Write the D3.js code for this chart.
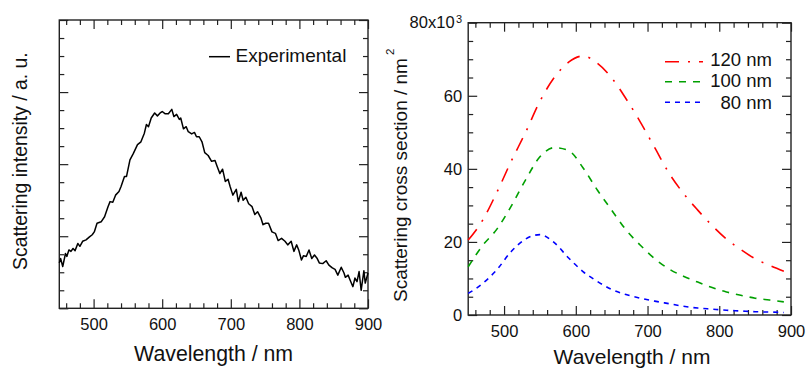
<!DOCTYPE html>
<html><head><meta charset="utf-8">
<script src="https://cdn.jsdelivr.net/npm/d3@7"></script>
<style>
body{margin:0;background:#fff}
text{font-family:"Liberation Sans",Arial,sans-serif;fill:#111}
</style>
</head><body>
<svg id="c" width="808" height="369"></svg>
<script>
// ---------- data ----------
const expWavelength = [450,452,455,459,461,464,467,470,473,477,480,484,489,494,498,501,505,511,516,521,524,528,532,537,540,545,548,553,558,564,569,574,577,580,584,589,593,597,600,604,609,614,617,621,625,627,631,635,638,643,647,650,654,658,662,667,672,677,680,684,688,692,696,699,703,708,711,715,718,722,726,731,735,739,744,747,751,755,760,765,769,774,779,783,788,792,796,799,803,806,810,814,818,822,826,829,834,839,843,848,852,856,861,865,867,871,874,878,881,884,887,890,894,896,900];
const expIntensity = [0.63,0.69,0.58,0.76,0.72,0.81,0.79,0.83,0.80,0.90,0.86,0.93,0.95,0.99,1.02,1.06,1.18,1.20,1.27,1.41,1.48,1.47,1.57,1.62,1.69,1.83,1.83,2.06,2.15,2.27,2.31,2.43,2.55,2.52,2.64,2.71,2.67,2.71,2.73,2.70,2.70,2.76,2.66,2.69,2.62,2.64,2.49,2.52,2.45,2.42,2.44,2.38,2.38,2.31,2.16,2.12,2.04,2.05,1.97,1.87,1.93,1.76,1.79,1.69,1.57,1.65,1.48,1.61,1.50,1.54,1.45,1.41,1.30,1.34,1.25,1.16,1.18,1.18,1.06,1.04,0.94,0.97,0.93,0.88,0.93,0.79,0.88,0.81,0.67,0.73,0.72,0.81,0.69,0.74,0.69,0.63,0.62,0.66,0.60,0.56,0.54,0.46,0.57,0.49,0.43,0.46,0.39,0.30,0.42,0.37,0.51,0.25,0.52,0.35,0.49];

const theoryWavelength = [450,470,490,510,530,550,570,590,610,630,650,670,690,710,730,750,770,790,810,830,850,870,890];
const sca120 = [20.5,25.9,33.6,42.1,50.0,58.5,65.0,69.2,70.9,68.9,64.9,59.2,52.8,45.8,38.8,33.3,28.7,24.5,20.8,17.9,15.4,13.6,12.0];
const sca100 = [13.2,19.0,23.5,29.8,37.0,43.3,45.8,45.0,40.3,34.2,28.7,23.3,19.1,15.4,12.6,10.6,9.0,7.5,6.3,5.4,4.6,4.1,3.6];
const sca80  = [5.9,8.6,12.4,17.4,20.8,22.0,19.8,15.6,11.9,9.2,7.0,5.6,4.6,3.8,3.1,2.4,1.9,1.6,1.3,1.1,0.9,0.8,0.7];

const seriesNames = ["120 nm","100 nm","80 nm"];
const seriesColors = ["#ff0000","#00a000","#0000ff"];
const seriesDash = ["14,9,2,9","7,7","5,5"];

const xTicks = [500,600,700,800,900];
const xMinor = [460,480,520,540,560,580,620,640,660,680,720,740,760,780,820,840,860,880];
const leftYMajor = [0,1,2,3,4];
const leftYMinor = [0.25,0.5,0.75,1.25,1.5,1.75,2.25,2.5,2.75,3.25,3.5,3.75];
const rightYMajor = [0,20,40,60,80];
const rightYMinor = [5,10,15,25,30,35,45,50,55,65,70,75];

// ---------- drawing ----------
const svg = d3.select("#c");
const FONT = '"Liberation Sans",Arial,sans-serif';

function frameAxes(x, y, yMajor, yMinor, yLabels) {
  const [x0, x1] = x.range();
  const [yb, yt] = y.range();
  const g = svg.append("g");
  const style = sel => {
    sel.select(".domain").remove();
    sel.selectAll("line").attr("stroke", "#222").attr("stroke-width", 1.2);
    sel.selectAll("text").attr("font-size", 16.5).attr("font-family", FONT).attr("fill", "#111");
  };
  // bottom
  g.append("g").attr("transform", `translate(0,${yb})`)
    .call(d3.axisBottom(x).tickValues(xTicks).tickSizeInner(-9).tickSizeOuter(0).tickPadding(10).tickFormat(d3.format("d"))).call(style);
  g.append("g").attr("transform", `translate(0,${yb})`)
    .call(d3.axisBottom(x).tickValues(xMinor).tickSizeInner(-5).tickSizeOuter(0).tickFormat("")).call(style);
  // top
  g.append("g").attr("transform", `translate(0,${yt})`)
    .call(d3.axisTop(x).tickValues(xTicks).tickSizeInner(-9).tickSizeOuter(0).tickFormat("")).call(style);
  g.append("g").attr("transform", `translate(0,${yt})`)
    .call(d3.axisTop(x).tickValues(xMinor).tickSizeInner(-5).tickSizeOuter(0).tickFormat("")).call(style);
  // left
  const la = g.append("g").attr("transform", `translate(${x0},0)`)
    .call(d3.axisLeft(y).tickValues(yMajor).tickSizeInner(-9).tickSizeOuter(0).tickPadding(6)
      .tickFormat(yLabels ? (d => d) : "")).call(style);
  g.append("g").attr("transform", `translate(${x0},0)`)
    .call(d3.axisLeft(y).tickValues(yMinor).tickSizeInner(-5).tickSizeOuter(0).tickFormat("")).call(style);
  // right
  g.append("g").attr("transform", `translate(${x1},0)`)
    .call(d3.axisRight(y).tickValues(yMajor).tickSizeInner(-9).tickSizeOuter(0).tickFormat("")).call(style);
  g.append("g").attr("transform", `translate(${x1},0)`)
    .call(d3.axisRight(y).tickValues(yMinor).tickSizeInner(-5).tickSizeOuter(0).tickFormat("")).call(style);
  // frame
  g.append("rect").attr("x", x0).attr("y", yt).attr("width", x1 - x0).attr("height", yb - yt)
    .attr("fill", "none").attr("stroke", "#222").attr("stroke-width", 1.4);
  return la;
}

// ----- left panel -----
const xL = d3.scaleLinear().domain([450, 900]).range([59.3, 368]);
const yL = d3.scaleLinear().domain([0, 4]).range([308.3, 20]);
frameAxes(xL, yL, leftYMajor, leftYMinor, false);

const expData = expWavelength.map((w, i) => [w, expIntensity[i]]);
svg.append("path").datum(expData)
  .attr("fill", "none").attr("stroke", "#000").attr("stroke-width", 1.5).attr("stroke-linejoin", "round")
  .attr("d", d3.line().x(d => xL(d[0])).y(d => yL(d[1])));

// legend left
svg.append("line").attr("x1", 209).attr("x2", 230).attr("y1", 56.7).attr("y2", 56.7)
  .attr("stroke", "#000").attr("stroke-width", 1.5);
svg.append("text").attr("x", 235.5).attr("y", 61.5).attr("font-size", 19).text("Experimental");

// axis titles left
svg.append("text").attr("x", 213.6).attr("y", 361).attr("text-anchor", "middle").attr("font-size", 21.3)
  .text("Wavelength / nm");
svg.append("text").attr("transform", "translate(27,270) rotate(-90)").attr("font-size", 19.4)
  .text("Scattering intensity / a. u.");

// ----- right panel -----
const xR = d3.scaleLinear().domain([450, 900]).range([468.2, 791]);
const yR = d3.scaleLinear().domain([0, 80]).range([315, 22.7]);
const la = frameAxes(xR, yR, rightYMajor, rightYMinor, true);
la.selectAll(".tick text").filter(d => d === 80).each(function () {
  const t = d3.select(this);
  t.text("80x10");
  t.append("tspan").attr("dy", "-0.5em").attr("dx", 1.5).attr("font-size", 11).text("3");
});

const series = [sca120, sca100, sca80];
const lineR = d3.line().x(d => xR(d[0])).y(d => yR(d[1])).curve(d3.curveMonotoneX);
series.forEach((vals, i) => {
  svg.append("path").datum(theoryWavelength.map((w, j) => [w, vals[j]]))
    .attr("fill", "none").attr("stroke", seriesColors[i]).attr("stroke-width", 1.6)
    .attr("stroke-dasharray", seriesDash[i]).attr("d", lineR);
});

// legend right
const legY = [61.8, 81.8, 102.3];
const legT = [65.5, 87.3, 109.3];
seriesNames.forEach((n, i) => {
  svg.append("line").attr("x1", 665).attr("x2", 703).attr("y1", legY[i]).attr("y2", legY[i])
    .attr("stroke", seriesColors[i]).attr("stroke-width", 1.6).attr("stroke-dasharray", seriesDash[i]);
  svg.append("text").attr("x", 772).attr("y", legT[i]).attr("text-anchor", "end").attr("font-size", 18.5).text(n);
});

// axis titles right
svg.append("text").attr("x", 632).attr("y", 363.5).attr("text-anchor", "middle").attr("font-size", 21)
  .text("Wavelength / nm");
const yt = svg.append("text").attr("transform", "translate(406.5,302) rotate(-90)").attr("font-size", 19);
yt.append("tspan").text("Scattering cross section / nm");
yt.append("tspan").attr("dx", 3).attr("dy", -13).attr("font-size", 11.5).text("2");
</script>
</body></html>
